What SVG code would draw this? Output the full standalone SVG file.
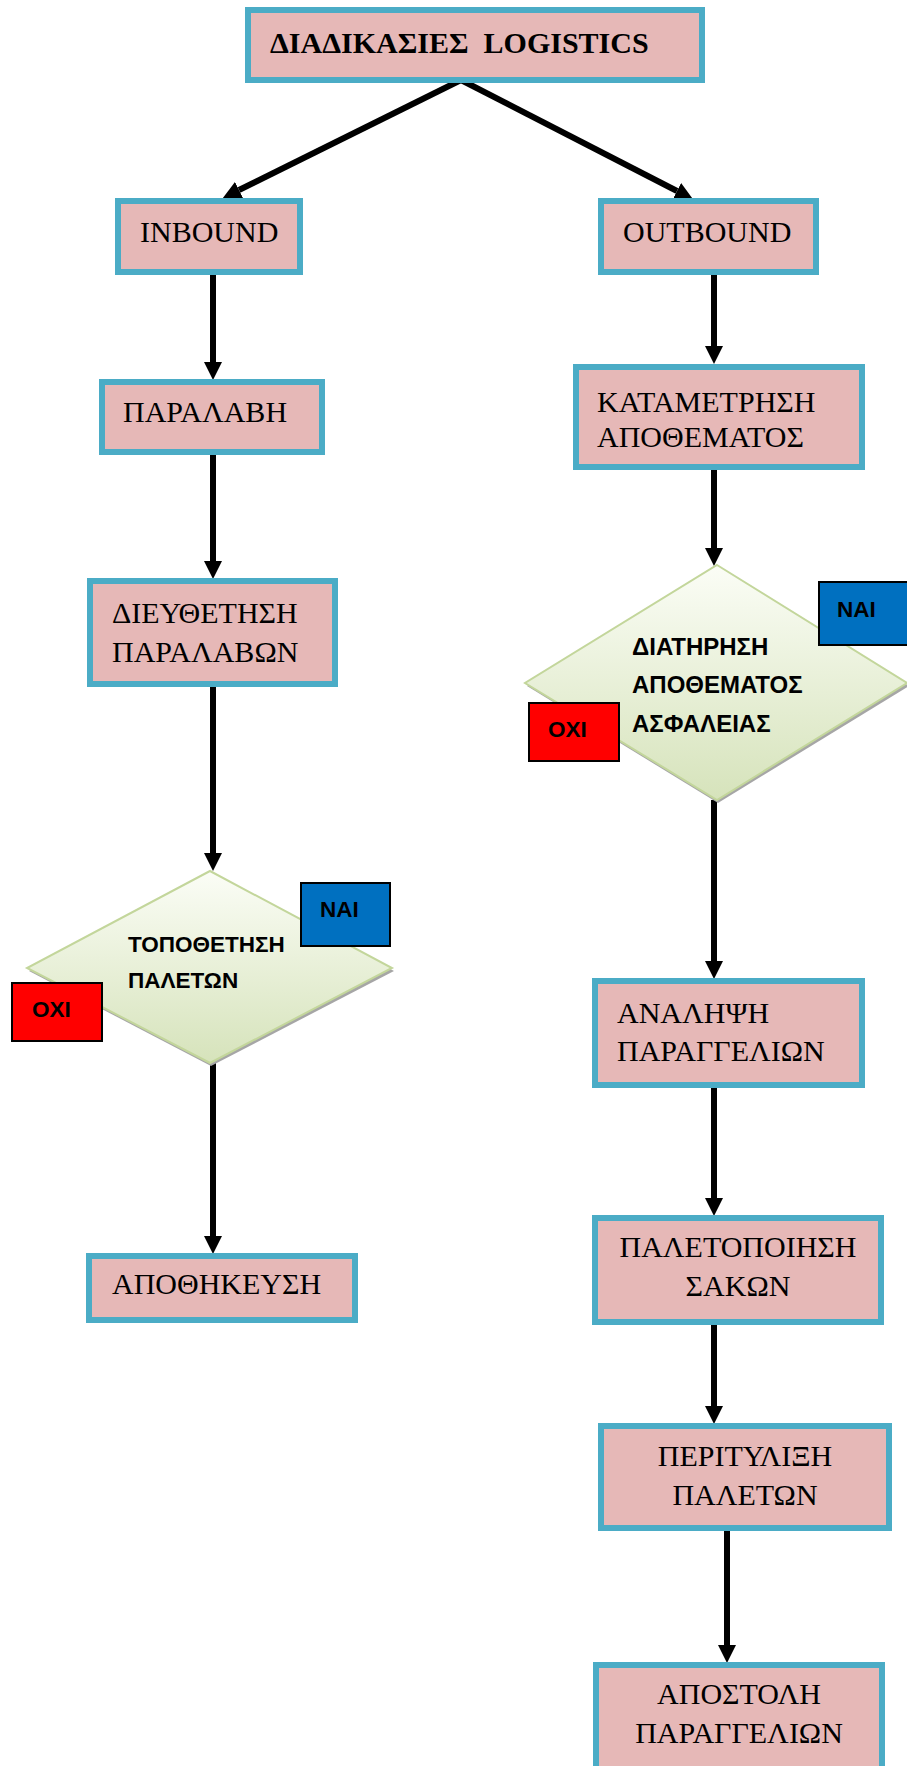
<svg xmlns="http://www.w3.org/2000/svg" width="907" height="1766" viewBox="0 0 907 1766">
<defs>
<style>
.box{fill:#e6b8b7;stroke:#4bacc6;stroke-width:6}
.t{font-family:"Liberation Serif","Times New Roman",serif;font-size:30px;fill:#000}
.tb{font-family:"Liberation Serif","Times New Roman",serif;font-size:30px;font-weight:bold;fill:#000;white-space:pre}
.d{fill:url(#dg);stroke:#c3d69b;stroke-width:2}
.ds{fill:#a6a6a6}
.s{font-family:"Liberation Sans",Arial,sans-serif;font-size:22.5px;font-weight:bold;fill:#000}
.s2{font-size:24px}
.yes{fill:#0070c0;stroke:#000;stroke-width:2}
.no{fill:#ff0000;stroke:#000;stroke-width:2}
.c{stroke:#000;stroke-width:6;fill:none;marker-end:url(#ah)}
.m{text-anchor:middle}
</style>
<linearGradient id="dg" x1="0" y1="0" x2="0" y2="1">
<stop offset="0" stop-color="#fbfdf6"/>
<stop offset="1" stop-color="#d6e3bb"/>
</linearGradient>
<marker id="ah" markerUnits="userSpaceOnUse" markerWidth="18" markerHeight="18" refX="0" refY="9" orient="auto">
<path d="M0,0 L18,9 L0,18 z" fill="#000"/>
</marker>
</defs>

<g id="connectors">
<line class="c" x1="461" y1="80" x2="239" y2="190"/>
<line class="c" x1="461" y1="80" x2="677" y2="191"/>
<line class="c" x1="213" y1="275" x2="213" y2="362"/>
<line class="c" x1="213" y1="455" x2="213" y2="561"/>
<line class="c" x1="213" y1="687" x2="213" y2="853"/>
<line class="c" x1="213" y1="1063" x2="213" y2="1236"/>
<line class="c" x1="714" y1="275" x2="714" y2="346"/>
<line class="c" x1="714" y1="470" x2="714" y2="548"/>
<line class="c" x1="714" y1="800" x2="714" y2="961"/>
<line class="c" x1="714" y1="1088" x2="714" y2="1198"/>
<line class="c" x1="714" y1="1325" x2="714" y2="1406"/>
<line class="c" x1="727" y1="1531" x2="727" y2="1645"/>
</g>

<g id="n-title">
<rect class="box" x="248" y="10" width="454" height="70"/>
<text class="tb" x="270" y="53">ΔΙΑΔΙΚΑΣΙΕΣ  LOGISTICS</text>
</g>
<g id="n-inbound">
<rect class="box" x="118" y="201" width="182" height="71"/>
<text class="t" x="140" y="242">INBOUND</text>
</g>
<g id="n-outbound">
<rect class="box" x="601" y="201" width="215" height="71"/>
<text class="t" x="623" y="242">OUTBOUND</text>
</g>
<g id="n-paralavi">
<rect class="box" x="102" y="382" width="220" height="70"/>
<text class="t" x="123" y="422">ΠΑΡΑΛΑΒΗ</text>
</g>
<g id="n-dieuthetisi">
<rect class="box" x="90" y="581" width="245" height="103"/>
<text class="t" x="112" y="623">ΔΙΕΥΘΕΤΗΣΗ</text>
<text class="t" x="112" y="662">ΠΑΡΑΛΑΒΩΝ</text>
</g>
<g id="n-topothetisi">
<polygon class="ds" points="211,874 394,971 211,1066 29,971"/>
<polygon class="d" points="210,871 392,968 210,1063 27,968"/>
<text class="s" x="128" y="952">ΤΟΠΟΘΕΤΗΣΗ</text>
<text class="s" x="128" y="988">ΠΑΛΕΤΩΝ</text>
</g>
<g id="n-nai-left">
<rect class="yes" x="301" y="883" width="89" height="63"/>
<text class="s" x="320" y="917">ΝΑΙ</text>
</g>
<g id="n-oxi-left">
<rect class="no" x="12" y="983" width="90" height="58"/>
<text class="s" x="32" y="1017">ΟΧΙ</text>
</g>
<g id="n-apothikeusi">
<rect class="box" x="89" y="1256" width="266" height="64"/>
<text class="t" x="112" y="1294">ΑΠΟΘΗΚΕΥΣΗ</text>
</g>
<g id="n-katametrisi">
<rect class="box" x="576" y="367" width="286" height="100"/>
<text class="t" x="597" y="412">ΚΑΤΑΜΕΤΡΗΣΗ</text>
<text class="t" x="597" y="447">ΑΠΟΘΕΜΑΤΟΣ</text>
</g>
<g id="n-diatirisi">
<polygon class="ds" points="718,568 909,686 718,803 527,686"/>
<polygon class="d" points="717,565 907,683 717,800 525,683"/>
<text class="s s2" x="632" y="655">ΔΙΑΤΗΡΗΣΗ</text>
<text class="s s2" x="632" y="693">ΑΠΟΘΕΜΑΤΟΣ</text>
<text class="s s2" x="632" y="732">ΑΣΦΑΛΕΙΑΣ</text>
</g>
<g id="n-nai-right">
<rect class="yes" x="819" y="582" width="90" height="63"/>
<text class="s" x="837" y="617">ΝΑΙ</text>
</g>
<g id="n-oxi-right">
<rect class="no" x="529" y="703" width="90" height="58"/>
<text class="s" x="548" y="737">ΟΧΙ</text>
</g>
<g id="n-analipsi">
<rect class="box" x="595" y="981" width="267" height="104"/>
<text class="t" x="617" y="1023">ΑΝΑΛΗΨΗ</text>
<text class="t" x="617" y="1061">ΠΑΡΑΓΓΕΛΙΩΝ</text>
</g>
<g id="n-paletopoiisi">
<rect class="box" x="595" y="1218" width="286" height="104"/>
<text class="t m" x="738" y="1257">ΠΑΛΕΤΟΠΟΙΗΣΗ</text>
<text class="t m" x="738" y="1296">ΣΑΚΩΝ</text>
</g>
<g id="n-peritulixi">
<rect class="box" x="601" y="1426" width="288" height="102"/>
<text class="t m" x="745" y="1466">ΠΕΡΙΤΥΛΙΞΗ</text>
<text class="t m" x="745" y="1505">ΠΑΛΕΤΩΝ</text>
</g>
<g id="n-apostoli">
<rect class="box" x="596" y="1665" width="286" height="110"/>
<text class="t m" x="739" y="1704">ΑΠΟΣΤΟΛΗ</text>
<text class="t m" x="739" y="1743">ΠΑΡΑΓΓΕΛΙΩΝ</text>
</g>
</svg>
